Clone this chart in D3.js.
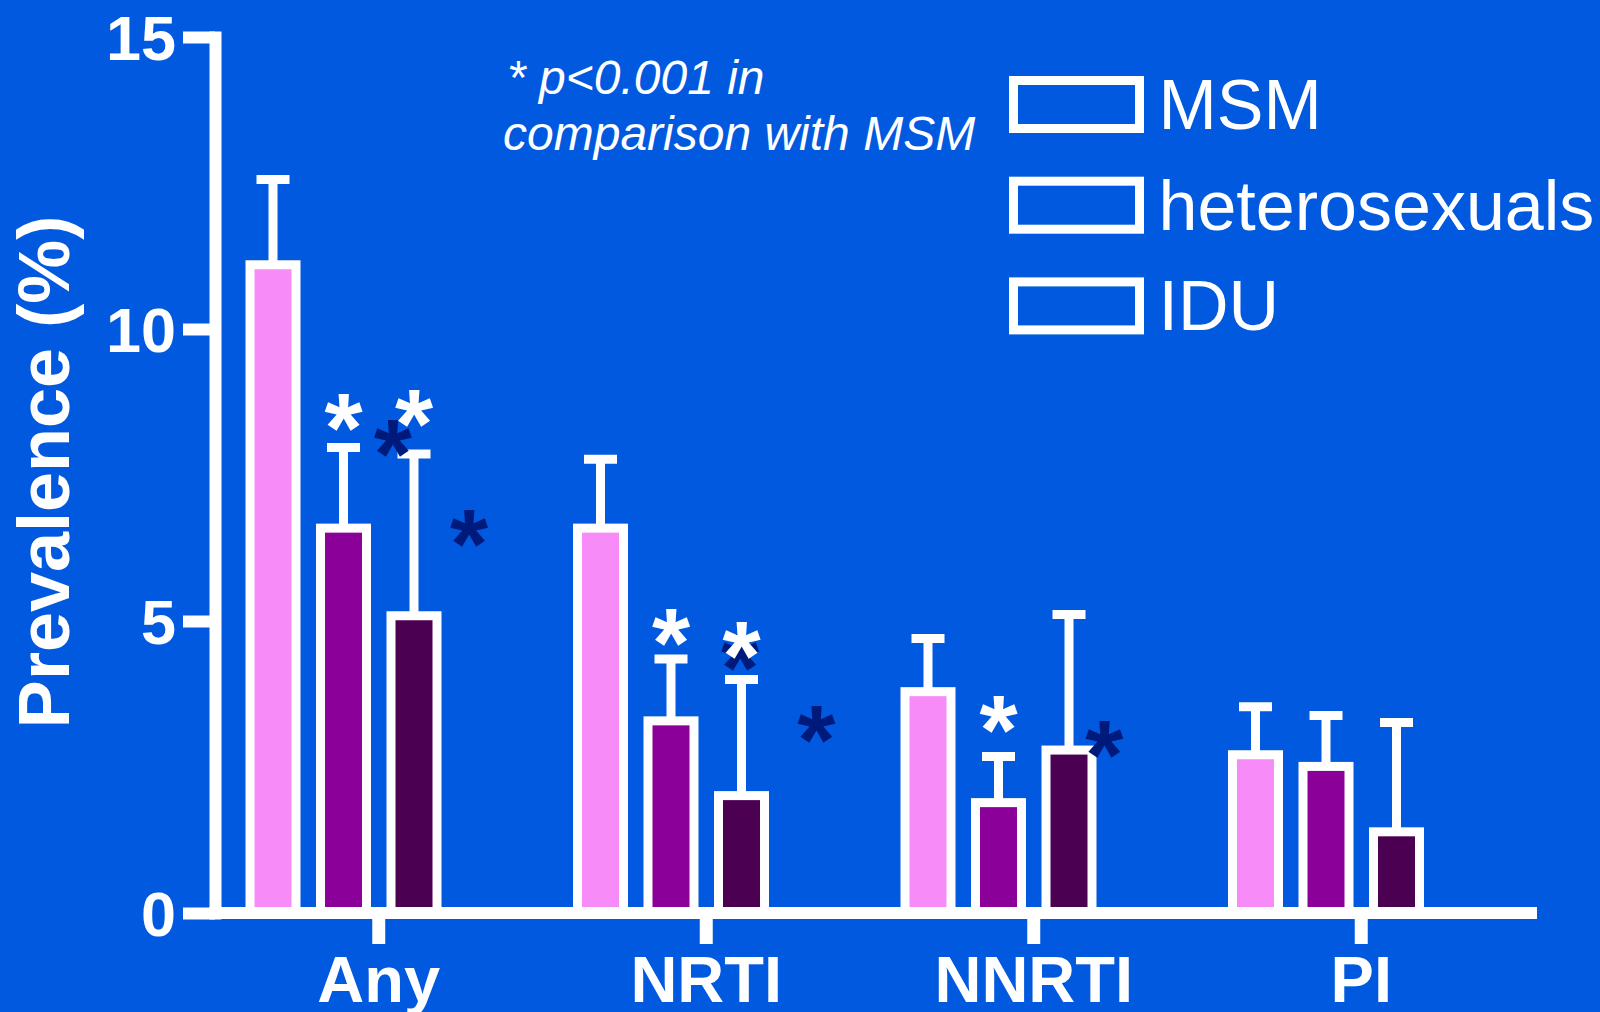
<!DOCTYPE html>
<html>
<head>
<meta charset="utf-8">
<script src="https://cdn.jsdelivr.net/npm/d3@7"></script>
<style>
  body { margin: 0; overflow: hidden; background: #0059df; }
  text { font-family: "Liberation Sans", Arial, sans-serif; fill: #fff; }
</style>
</head>
<body>
<div id="chart"></div>
<script>

// categories and groups
var categories = ["Any", "NRTI", "NNRTI", "PI"];
var groups = ["MSM", "heterosexuals", "IDU"];
var groupColors = ["#f78cf9", "#8b0099", "#4b0052"];

// prevalence (%) per group, one value per category
var msmValues = [11.1, 6.59, 3.79, 2.71];
var heteroValues = [6.59, 3.29, 1.89, 2.51];
var iduValues = [5.09, 2.01, 2.79, 1.39];

// upper end of the error bars
var msmUpper = [12.56, 7.77, 4.70, 3.53];
var heteroUpper = [7.97, 4.35, 2.68, 3.38];
var iduUpper = [7.86, 4.00, 5.11, 3.26];

var yTicks = [0, 5, 10, 15];

// significance stars: category, slot inside the group, height (% units)
var whiteStars = [
    { cat: "Any", slot: 1, y: 8.65 },
    { cat: "Any", slot: 2, y: 8.72 },
    { cat: "NRTI", slot: 1, y: 4.97 },
    { cat: "NRTI", slot: 2, y: 4.74 },
    { cat: "NNRTI", slot: 1, y: 3.48 }
];
var navyStars = [
    { cat: "Any", slot: 1.70, y: 8.2 },
    { cat: "Any", slot: 2.78, y: 6.66 },
    { cat: "NRTI", slot: 1.98, y: 4.54 },
    { cat: "NRTI", slot: 3.06, y: 3.30 },
    { cat: "NNRTI", slot: 2.5, y: 3.05 }
];

var svgWidth = 1600;
var svgHeight = 1012;

var svg = d3.select("#chart")
    .append("svg")
    .attr("width", svgWidth)
    .attr("height", svgHeight);

svg.append("rect")
    .attr("width", svgWidth)
    .attr("height", svgHeight)
    .attr("fill", "#0059df");

// scales
var xScale = d3.scaleBand()
    .domain(categories)
    .range([215, 1525])
    .padding(0);

// 4 slots per group (the 4th one is empty in the original)
var slotScale = d3.scaleLinear()
    .domain([0, 3])
    .range([-105.75, 105.75]);

var yScale = d3.scaleLinear()
    .domain([0, 15])
    .range([913, 37]);

var barWidth = 46;
var stroke = 9;

function catCenter(c) {
    return xScale(c) + xScale.bandwidth() / 2;
}

var seriesValues = [msmValues, heteroValues, iduValues];
var seriesUpper = [msmUpper, heteroUpper, iduUpper];

var barData = [];
seriesValues.forEach(function(vals, g) {
    vals.forEach(function(v, i) {
        barData.push({ cat: categories[i], g: g, value: v, upper: seriesUpper[g][i] });
    });
});

var plot = svg.append("g");

// error bars first so bar outline sits on the stem base
plot.selectAll(".err")
    .data(barData)
    .enter()
    .append("line")
    .attr("x1", d => catCenter(d.cat) + slotScale(d.g))
    .attr("x2", d => catCenter(d.cat) + slotScale(d.g))
    .attr("y1", d => yScale(d.value))
    .attr("y2", d => yScale(d.upper))
    .attr("stroke", "#fff")
    .attr("stroke-width", stroke);

plot.selectAll(".cap")
    .data(barData)
    .enter()
    .append("line")
    .attr("x1", d => catCenter(d.cat) + slotScale(d.g) - 16.5)
    .attr("x2", d => catCenter(d.cat) + slotScale(d.g) + 16.5)
    .attr("y1", d => yScale(d.upper))
    .attr("y2", d => yScale(d.upper))
    .attr("stroke", "#fff")
    .attr("stroke-width", stroke);

plot.selectAll(".bar")
    .data(barData)
    .enter()
    .append("rect")
    .attr("x", d => catCenter(d.cat) + slotScale(d.g) - barWidth / 2)
    .attr("y", d => yScale(d.value))
    .attr("width", barWidth)
    .attr("height", d => yScale(0) - yScale(d.value))
    .attr("fill", d => groupColors[d.g])
    .attr("stroke", "#fff")
    .attr("stroke-width", stroke);

// stars
var starSize = 98;
function addStars(data, color) {
    plot.selectAll(null)
        .data(data)
        .enter()
        .append("text")
        .attr("x", d => catCenter(d.cat) + slotScale(d.slot))
        .attr("y", d => yScale(d.y) + starSize * 0.55)
        .attr("text-anchor", "middle")
        .attr("font-weight", "bold")
        .attr("font-size", starSize + "px")
        .style("fill", color)
        .text("*");
}
addStars(navyStars, "#001a7c");
addStars(whiteStars, "#fff");

// y axis
var yAxis = d3.axisLeft(yScale)
    .tickValues(yTicks)
    .tickSize(32)
    .tickSizeOuter(0)
    .tickPadding(7);

var yAxisG = svg.append("g")
    .attr("transform", "translate(215,0)")
    .call(yAxis);
yAxisG.select(".domain")
    .attr("stroke", "#fff")
    .attr("stroke-width", 12)
    .attr("stroke-linecap", "square");
yAxisG.selectAll(".tick line")
    .attr("stroke", "#fff")
    .attr("stroke-width", 12);
yAxisG.selectAll(".tick text")
    .attr("dy", "0.36em")
    .attr("font-size", "63px")
    .attr("font-weight", "bold")
    .style("fill", "#fff")
    .style("font-family", "'Liberation Sans', Arial, sans-serif");

// x axis
var xAxis = d3.axisBottom(xScale)
    .tickSize(31)
    .tickSizeOuter(0);

var xAxisG = svg.append("g")
    .attr("transform", "translate(0,913)")
    .call(xAxis);
xAxisG.select(".domain").remove();
xAxisG.append("line")
    .attr("x1", xScale.range()[0] - 6)
    .attr("x2", xScale.range()[1] + 12)
    .attr("stroke", "#fff")
    .attr("stroke-width", 12);
xAxisG.selectAll(".tick line")
    .attr("stroke", "#fff")
    .attr("stroke-width", 13);
xAxisG.selectAll(".tick text")
    .attr("y", 89)
    .attr("dy", 0)
    .attr("font-size", "65px")
    .attr("font-weight", "bold")
    .style("fill", "#fff")
    .style("font-family", "'Liberation Sans', Arial, sans-serif");

// axis title
svg.append("text")
    .attr("transform", "translate(69,472) rotate(-90)")
    .attr("text-anchor", "middle")
    .attr("font-size", "72px")
    .attr("font-weight", "bold")
    .text("Prevalence (%)");

// note
var note = svg.append("text")
    .attr("font-size", "48px")
    .attr("font-style", "italic");
note.append("tspan").attr("x", 507).attr("y", 94).text("* p<0.001 in");
note.append("tspan").attr("x", 503).attr("y", 150).text("comparison with MSM");

// legend
var legend = svg.selectAll(".legend")
    .data(groups)
    .enter()
    .append("g")
    .attr("transform", (d, i) => `translate(1013.5, ${80.5 + i * 100.7})`);

legend.append("rect")
    .attr("width", 126)
    .attr("height", 48)
    .attr("fill", "none")
    .attr("stroke", "#fff")
    .attr("stroke-width", stroke);

legend.append("text")
    .attr("x", 145)
    .attr("y", 48.5)
    .attr("font-size", "70px")
    .text(d => d);

</script>
</body>
</html>
